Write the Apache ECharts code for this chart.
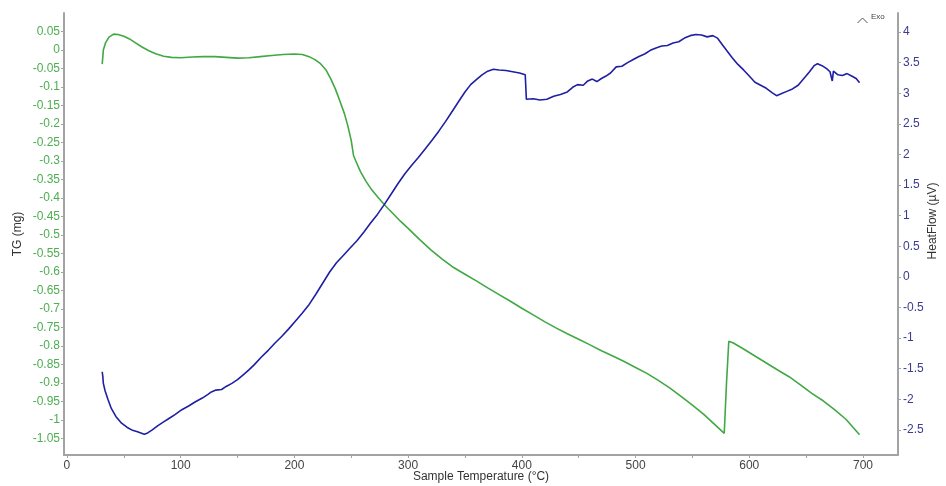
<!DOCTYPE html>
<html>
<head>
<meta charset="utf-8">
<script src="https://cdn.jsdelivr.net/npm/echarts@6/dist/echarts.min.js"></script>
<style>
  html, body { margin: 0; padding: 0; background: #fff; }
  #main { width: 946px; height: 486px; }
</style>
</head>
<body>
<div id="main"></div>
<script>
// TG curve (mg) vs sample temperature
var tgTemp = [31, 31.5, 32, 34, 37, 41, 45, 50, 55, 60, 66, 72, 78, 85, 92, 100, 110, 120, 130, 140,
  150, 160, 170, 180, 190, 200, 207, 213, 218, 223, 228, 232, 236, 240, 244, 247, 250, 252, 254, 258,
  263, 268, 274, 280, 286, 293, 300, 310, 320, 330, 340, 350, 360, 370, 380, 390, 400, 410, 420, 430,
  440, 450, 460, 470, 480, 490, 500, 510, 520, 530, 540, 550, 560, 570, 578, 580, 582, 586, 595, 605,
  615, 625, 635, 645, 655, 665, 675, 685, 697];
var tgValue = [-0.038, -0.02, 0.0, 0.02, 0.035, 0.043, 0.042, 0.037, 0.030, 0.020, 0.008, -0.002, -0.010, -0.017, -0.020, -0.021, -0.019, -0.018, -0.018, -0.020,
  -0.022, -0.021, -0.018, -0.015, -0.012, -0.011, -0.012, -0.018, -0.026, -0.037, -0.055, -0.078, -0.105, -0.138, -0.172, -0.205, -0.245, -0.285, -0.300, -0.328,
  -0.355, -0.378, -0.400, -0.421, -0.440, -0.462, -0.482, -0.512, -0.540, -0.565, -0.588, -0.606, -0.624, -0.643, -0.661, -0.679, -0.698, -0.716, -0.734, -0.751,
  -0.767, -0.782, -0.797, -0.813, -0.827, -0.842, -0.858, -0.874, -0.893, -0.913, -0.936, -0.960, -0.985, -1.013, -1.036, -0.90, -0.787, -0.792, -0.808, -0.827,
  -0.846, -0.865, -0.883, -0.905, -0.928, -0.948, -0.972, -0.998, -1.04];

// HeatFlow curve (uV) vs sample temperature
var hfTemp = [31, 31.5, 32, 33.5, 36, 39, 43, 48, 53, 57, 62, 65, 68, 71, 75, 80, 85, 90, 95, 101,
  107, 113, 119, 124, 127, 131, 136, 140, 145, 150, 155, 160, 165, 171, 177, 183, 189, 195, 201, 207,
  213, 219, 225, 231, 237, 243, 249, 255, 261, 267, 273, 279, 285, 291, 297, 303, 309, 315, 321, 327,
  333, 339, 345, 350, 355, 360, 365, 370, 375, 380, 386, 392, 398, 403, 404, 410, 416, 422, 428, 434,
  440, 445, 449, 454, 458, 462, 466, 470, 474, 478, 483, 488, 493, 498, 503, 508, 513, 518, 523, 528,
  533, 538, 543, 548, 553, 558, 563, 568, 572, 576, 580, 585, 590, 595, 600, 605, 610, 615, 620, 624,
  628, 633, 638, 643, 648, 653, 657, 660, 664, 668, 671, 673, 674, 678, 682, 686, 690, 694, 697];
var hfValue = [-1.55, -1.62, -1.74, -1.86, -2.0, -2.15, -2.28, -2.39, -2.46, -2.50, -2.53, -2.55, -2.57, -2.55, -2.50, -2.43, -2.37, -2.31, -2.25, -2.17,
  -2.11, -2.04, -1.98, -1.92, -1.88, -1.85, -1.84, -1.79, -1.74, -1.68, -1.60, -1.52, -1.43, -1.31, -1.20, -1.08, -0.97, -0.85, -0.72, -0.59,
  -0.45, -0.28, -0.10, 0.08, 0.23, 0.35, 0.47, 0.59, 0.73, 0.88, 1.02, 1.18, 1.35, 1.52, 1.68, 1.82, 1.95, 2.09, 2.23, 2.38,
  2.54, 2.71, 2.88, 3.02, 3.14, 3.22, 3.30, 3.36, 3.39, 3.38, 3.37, 3.35, 3.33, 3.30, 2.90, 2.91, 2.89, 2.90, 2.95, 2.98,
  3.02, 3.10, 3.14, 3.13, 3.20, 3.23, 3.19, 3.24, 3.28, 3.33, 3.43, 3.44, 3.50, 3.55, 3.60, 3.64, 3.70, 3.74, 3.77, 3.78,
  3.82, 3.84, 3.90, 3.94, 3.96, 3.95, 3.92, 3.94, 3.90, 3.80, 3.70, 3.58, 3.47, 3.38, 3.28, 3.18, 3.13, 3.08, 3.01, 2.96,
  2.99, 3.03, 3.07, 3.13, 3.24, 3.35, 3.45, 3.48, 3.45, 3.40, 3.35, 3.20, 3.36, 3.30, 3.29, 3.32, 3.28, 3.24, 3.17];

// tick labels
var tempTicks = [0, 100, 200, 300, 400, 500, 600, 700];
var tempMinorTicks = [0, 50, 100, 150, 200, 250, 300, 350, 400, 450, 500, 550, 600, 650, 700];
var tgTicks = [0.05, 0, -0.05, -0.1, -0.15, -0.2, -0.25, -0.3, -0.35, -0.4, -0.45, -0.5, -0.55, -0.6, -0.65,
  -0.7, -0.75, -0.8, -0.85, -0.9, -0.95, -1, -1.05];
var hfTicks = [4, 3.5, 3, 2.5, 2, 1.5, 1, 0.5, 0, -0.5, -1, -1.5, -2, -2.5];

function pairs(xs, ys) {
  var out = [];
  for (var i = 0; i < xs.length; i++) out.push([xs[i], ys[i]]);
  return out;
}

var chart = echarts.init(document.getElementById('main'));
var axisGray = '#a3a3a3';
var font = 'Liberation Sans, Arial, sans-serif';

var option = {
  animation: false,
  backgroundColor: '#fff',
  grid: { left: 64, right: 48, top: 13, bottom: 31, outerBoundsMode: 'none', containLabel: false },
  xAxis: {
    type: 'value',
    min: -2.6,
    max: 730.8,
    name: 'Sample Temperature (°C)',
    nameLocation: 'middle',
    nameGap: 16,
    nameMoveOverlap: false,
    nameTextStyle: { color: '#333', fontSize: 12, fontFamily: font },
    axisLine: { onZero: false, lineStyle: { color: axisGray, width: 2 } },
    axisTick: { show: true, length: 3, customValues: tempMinorTicks, lineStyle: { color: axisGray } },
    axisLabel: { customValues: tempTicks, color: '#444', fontSize: 12, fontFamily: font, margin: 5 },
    splitLine: { show: false }
  },
  yAxis: [
    {
      type: 'value',
      position: 'left',
      min: -1.0946,
      max: 0.1,
      name: 'TG (mg)',
      nameLocation: 'middle',
      nameRotate: 90,
      nameGap: 40,
      nameMoveOverlap: false,
      nameTextStyle: { color: '#333', fontSize: 12, fontFamily: font },
      axisLine: { show: true, onZero: false, lineStyle: { color: axisGray, width: 2 } },
      axisTick: { show: true, length: 3, customValues: tgTicks, lineStyle: { color: axisGray } },
      axisLabel: {
        customValues: tgTicks,
        color: '#4caf50',
        fontSize: 12,
        fontFamily: font,
        margin: 4,
        formatter: function (v) { return String(Math.round(v * 100) / 100); }
      },
      splitLine: { show: false }
    },
    {
      type: 'value',
      position: 'right',
      min: -2.91,
      max: 4.31,
      name: 'HeatFlow (µV)',
      nameLocation: 'middle',
      nameRotate: 90,
      nameGap: 29,
      nameMoveOverlap: false,
      nameTextStyle: { color: '#333', fontSize: 12, fontFamily: font, padding: [0, 0, 0, 26] },
      axisLine: { show: true, onZero: false, lineStyle: { color: axisGray, width: 2 } },
      axisTick: { show: true, length: 3, customValues: hfTicks, lineStyle: { color: axisGray } },
      axisLabel: {
        customValues: hfTicks,
        color: '#3b3b8f',
        fontSize: 12,
        fontFamily: font,
        margin: 5,
        formatter: function (v) { return String(Math.round(v * 10) / 10); }
      },
      splitLine: { show: false }
    }
  ],
  graphic: [
    {
      type: 'polyline',
      shape: { points: [[857.5, 23], [862.5, 18], [867.5, 23]] },
      style: { stroke: '#555', lineWidth: 1, fill: null }
    },
    {
      type: 'text',
      left: 871,
      top: 13,
      style: { text: 'Exo', fill: '#444', font: '8px ' + font }
    }
  ],
  series: [
    {
      name: 'TG',
      type: 'line',
      yAxisIndex: 0,
      showSymbol: false,
      data: pairs(tgTemp, tgValue),
      lineStyle: { color: '#41a843', width: 1.6 },
      z: 2
    },
    {
      name: 'HeatFlow',
      type: 'line',
      yAxisIndex: 1,
      showSymbol: false,
      data: pairs(hfTemp, hfValue),
      lineStyle: { color: '#1f1fa3', width: 1.6 },
      z: 3
    }
  ]
};

chart.setOption(option);
</script>
</body>
</html>
